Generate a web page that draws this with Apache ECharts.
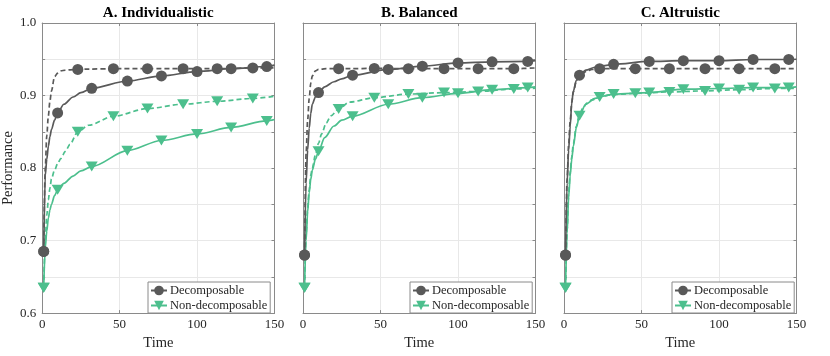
<!DOCTYPE html>
<html>
<head>
<meta charset="utf-8">
<script src="https://cdn.jsdelivr.net/npm/echarts@6/dist/echarts.min.js"></script>
<style>
html,body{margin:0;padding:0;background:#fff;}
#chart{width:830px;height:356px;}
</style>
</head>
<body>
<div id="chart"></div>
<script>
// ---------------- DATA ----------------
const panelTitles = ['A. Individualistic', 'B. Balanced', 'C. Altruistic'];
const seriesNames = ['Decomposable', 'Non-decomposable'];
const timeTicks = [0, 50, 100, 150];
const perfTicks = [0.6, 0.7, 0.8, 0.9, 1.0];

// sample times of the curves (solid = marker-bearing curve, dashed = companion curve)
const solidLineTimes = [2, 3, 4, 5, 6, 8, 14, 20, 25, 150];
const solidMarkTimes = [1, 10, 32, 55, 77, 100, 122, 145];
const dashedLineTimes = [2, 3, 4, 5, 6, 8, 10, 12, 15, 18, 30, 150];
const dashedMarkTimes = [1, 23, 46, 68, 91, 113, 136];

// Panel A. Individualistic
const A_decSolidLine = [0.79, 0.812, 0.83, 0.843, 0.853, 0.866, 0.888, 0.898, 0.904, 0.942];
const A_decSolidMark = [0.685, 0.876, 0.910, 0.920, 0.927, 0.933, 0.937, 0.940];
const A_decDashLine  = [0.80, 0.845, 0.872, 0.892, 0.906, 0.926, 0.931, 0.934, 0.935, 0.9355, 0.9365, 0.938];
const A_decDashMark  = [0.685, 0.936, 0.937, 0.937, 0.937, 0.937, 0.938];
const A_nonSolidLine = [0.69, 0.713, 0.731, 0.742, 0.75, 0.762, 0.779, 0.789, 0.796, 0.867];
const A_nonSolidMark = [0.635, 0.770, 0.802, 0.824, 0.838, 0.847, 0.856, 0.865];
const A_nonDashLine  = [0.70, 0.735, 0.756, 0.772, 0.785, 0.797, 0.806, 0.813, 0.823, 0.833, 0.859, 0.899];
const A_nonDashMark  = [0.635, 0.850, 0.8715, 0.882, 0.888, 0.892, 0.896];

// Panel B. Balanced
const B_decSolidLine = [0.78, 0.825, 0.855, 0.875, 0.888, 0.898, 0.912, 0.919, 0.923, 0.948];
const B_decSolidMark = [0.68, 0.904, 0.928, 0.936, 0.9405, 0.945, 0.9465, 0.947];
const B_decDashLine  = [0.82, 0.866, 0.896, 0.917, 0.927, 0.934, 0.936, 0.9365, 0.937, 0.937, 0.937, 0.938];
const B_decDashMark  = [0.68, 0.937, 0.9374, 0.937, 0.937, 0.937, 0.937];
const B_nonSolidLine = [0.70, 0.74, 0.766, 0.784, 0.797, 0.812, 0.842, 0.858, 0.866, 0.912];
const B_nonSolidMark = [0.635, 0.823, 0.8715, 0.888, 0.897, 0.903, 0.908, 0.911];
const B_nonDashLine  = [0.71, 0.745, 0.77, 0.79, 0.80, 0.818, 0.834, 0.847, 0.862, 0.872, 0.891, 0.91];
const B_nonDashMark  = [0.635, 0.8815, 0.897, 0.902, 0.904, 0.9056, 0.909];

// Panel C. Altruistic
const C_decSolidLine = [0.78, 0.825, 0.858, 0.89, 0.906, 0.921, 0.935, 0.939, 0.941, 0.95];
const C_decSolidMark = [0.68, 0.928, 0.943, 0.947, 0.948, 0.948, 0.9497, 0.9497];
const C_decDashLine  = [0.785, 0.832, 0.865, 0.89, 0.905, 0.92, 0.927, 0.931, 0.934, 0.936, 0.937, 0.937];
const C_decDashMark  = [0.68, 0.937, 0.937, 0.937, 0.937, 0.937, 0.937];
const C_nonSolidLine = [0.71, 0.76, 0.79, 0.812, 0.83, 0.856, 0.888, 0.896, 0.899, 0.912];
const C_nonSolidMark = [0.635, 0.872, 0.902, 0.904, 0.9087, 0.9097, 0.911, 0.911];
const C_nonDashLine  = [0.715, 0.765, 0.795, 0.815, 0.833, 0.858, 0.874, 0.882, 0.89, 0.894, 0.901, 0.91];
const C_nonDashMark  = [0.635, 0.898, 0.903, 0.905, 0.9064, 0.908, 0.9097];

// ---------------- STYLE ----------------
const FONT = '"Liberation Serif", "DejaVu Serif", serif';
const GRAY = '#595959';
const GREEN = '#4cbf8d';
const FRAME = '#8a8a8a';
const TXT = '#262626';
const TRI = 'path://M0,0 L12,0 L6,10 Z';
const gridLefts = [42, 303, 564];
const gridW = 232.5, gridTop = 23, gridH = 293.5;

const panels = [
  [A_decSolidLine, A_decSolidMark, A_decDashLine, A_decDashMark, A_nonSolidLine, A_nonSolidMark, A_nonDashLine, A_nonDashMark],
  [B_decSolidLine, B_decSolidMark, B_decDashLine, B_decDashMark, B_nonSolidLine, B_nonSolidMark, B_nonDashLine, B_nonDashMark],
  [C_decSolidLine, C_decSolidMark, C_decDashLine, C_decDashMark, C_nonSolidLine, C_nonSolidMark, C_nonDashLine, C_nonDashMark]
];

function buildData(lineT, lineV, markT, markV) {
  const pts = [];
  lineT.forEach((t, i) => pts.push({ value: [t, lineV[i]], symbol: 'none' }));
  markT.forEach((t, i) => pts.push({ value: [t, markV[i]] }));
  pts.sort((a, b) => a.value[0] - b.value[0]);
  return pts;
}

function mkSeries(p, name, color, dashed, symbol, size, data, z) {
  return {
    type: 'line', name: name, xAxisIndex: p, yAxisIndex: p,
    data: data, smooth: 0.3, smoothMonotone: 'x',
    symbol: symbol, symbolSize: size, showSymbol: true, showAllSymbol: true,
    lineStyle: { color: color, width: 1.7, type: dashed ? [5, 3] : 'solid' },
    itemStyle: { color: color },
    emphasis: { disabled: true }, z: z, animation: false, clip: true
  };
}

const grids = [], xAxes = [], yAxes = [], series = [], legends = [], graphics = [];
const legendLefts = [148, 410, 672];

for (let p = 0; p < 3; p++) {
  grids.push({ left: gridLefts[p], top: gridTop, width: gridW, height: gridH });
  const d = panels[p];
  series.push(mkSeries(p, seriesNames[0], GRAY, false, 'circle', 11, buildData(solidLineTimes, d[0], solidMarkTimes, d[1]), 4));
  series.push(mkSeries(p, seriesNames[1], GREEN, false, TRI, [12, 10], buildData(solidLineTimes, d[4], solidMarkTimes, d[5]), 3));
  series.push(mkSeries(p, seriesNames[0], GRAY, true, 'circle', 11, buildData(dashedLineTimes, d[2], dashedMarkTimes, d[3]), 4));
  series.push(mkSeries(p, seriesNames[1], GREEN, true, TRI, [12, 10], buildData(dashedLineTimes, d[6], dashedMarkTimes, d[7]), 3));

  legends.push({
    data: seriesNames, left: legendLefts[p], top: 282, orient: 'vertical',
    backgroundColor: '#fff', borderColor: FRAME, borderWidth: 1, borderRadius: 0,
    padding: [2, 3, 1, 2], itemGap: 2, itemWidth: 16, itemHeight: 12,
    selectedMode: false,
    textStyle: { fontFamily: FONT, fontSize: 12.5, color: TXT, padding: [0, 0, 0, -2] }
  });

  graphics.push({
    type: 'text', x: gridLefts[p] + gridW / 2, y: 13,
    style: { text: panelTitles[p], font: 'bold 15px ' + FONT, fill: '#000', align: 'center', verticalAlign: 'middle' }
  });
}

for (let p = 0; p < 3; p++) {
  xAxes.push({
    gridIndex: p, type: 'value', position: 'bottom',
    min: timeTicks[0], max: timeTicks[timeTicks.length - 1], interval: timeTicks[1] - timeTicks[0],
    axisLine: { show: true, onZero: false, lineStyle: { color: FRAME, width: 1 } },
    axisTick: { show: true, inside: true, length: 3, lineStyle: { color: FRAME } },
    axisLabel: { fontFamily: FONT, fontSize: 13, color: TXT, margin: 5 },
    splitLine: { show: true, lineStyle: { color: '#e8e8e8', width: 1 } },
    name: 'Time', nameLocation: 'middle', nameGap: 19,
    nameTextStyle: { fontFamily: FONT, fontSize: 14.5, color: TXT }
  });
}
for (let p = 0; p < 3; p++) {
  xAxes.push({
    gridIndex: p, type: 'value', position: 'top',
    min: timeTicks[0], max: timeTicks[timeTicks.length - 1], interval: timeTicks[1] - timeTicks[0],
    axisLine: { show: true, onZero: false, lineStyle: { color: FRAME, width: 1 } },
    axisTick: { show: true, inside: true, length: 3, lineStyle: { color: FRAME } },
    axisLabel: { show: false }, splitLine: { show: false }
  });
}
for (let p = 0; p < 3; p++) {
  yAxes.push({
    gridIndex: p, type: 'value', position: 'left',
    min: perfTicks[0], max: perfTicks[perfTicks.length - 1], interval: 0.05,
    axisLine: { show: true, onZero: false, lineStyle: { color: FRAME, width: 1 } },
    axisTick: { show: true, inside: true, length: 3, lineStyle: { color: FRAME } },
    axisLabel: {
      show: p === 0, fontFamily: FONT, fontSize: 13, color: TXT, margin: 6,
      formatter: function (v) {
        for (const t of perfTicks) { if (Math.abs(v - t) < 1e-6) return t.toFixed(1); }
        return '';
      }
    },
    splitLine: { show: true, lineStyle: { color: '#e8e8e8', width: 1 } },
    name: p === 0 ? 'Performance' : '', nameLocation: 'middle', nameGap: 21,
    nameTextStyle: { fontFamily: FONT, fontSize: 14.5, color: TXT }
  });
}
for (let p = 0; p < 3; p++) {
  yAxes.push({
    gridIndex: p, type: 'value', position: 'right',
    min: perfTicks[0], max: perfTicks[perfTicks.length - 1], interval: 0.05,
    axisLine: { show: true, onZero: false, lineStyle: { color: FRAME, width: 1 } },
    axisTick: { show: true, inside: true, length: 3, lineStyle: { color: FRAME } },
    axisLabel: { show: false }, splitLine: { show: false }
  });
}

const chart = echarts.init(document.getElementById('chart'), null, { renderer: 'canvas' });
chart.setOption({
  animation: false,
  backgroundColor: '#fff',
  grid: grids, xAxis: xAxes, yAxis: yAxes,
  legend: legends, series: series, graphic: graphics
});
</script>
</body>
</html>
